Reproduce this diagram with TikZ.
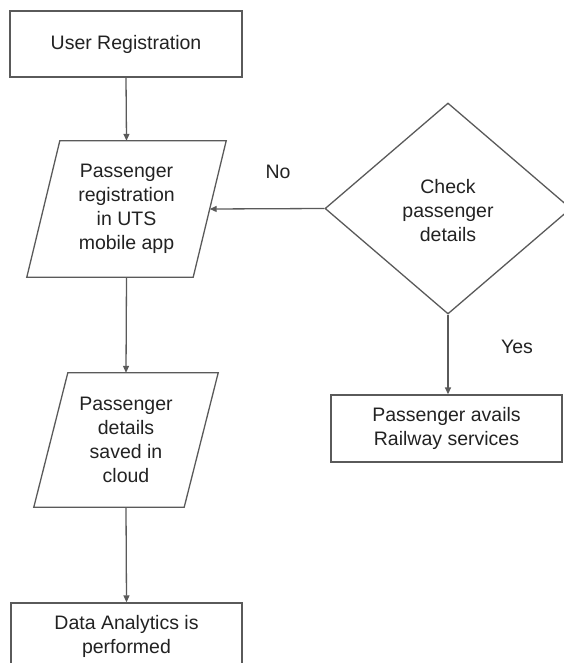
\documentclass[tikz,border=0pt]{standalone}
\usepackage{fontspec}
\setmainfont{Liberation Sans}
\usetikzlibrary{arrows.meta,shapes.geometric}
\definecolor{linec}{HTML}{5A5A5A}
\definecolor{textc}{HTML}{222222}
\begin{document}
\begin{tikzpicture}[x=1pt,y=-1pt,
  every node/.style={font=\fontsize{19.5}{24}\selectfont, text=textc, align=center, inner sep=0pt},
  procbox/.style={draw=linec, line width=1.3pt, rectangle},
  iobox/.style={draw=none, rectangle},
  decbox/.style={draw=linec, line width=1.3pt, diamond, aspect=1.17},
  conn/.style={draw=linec, line width=1.3pt, -{Triangle[length=7pt,width=6pt]}},
  para/.style={draw=linec, line width=1.3pt, line join=miter}
]
\useasboundingbox (0,0) rectangle (564,663);
\begin{scope}
\clip (0,0) rectangle (564,663);
\node[procbox, minimum width=232pt, minimum height=66pt] (reg) at (126,44) {User Registration};
\node[iobox, minimum width=199pt, minimum height=136pt] (p1) at (126.5,209) {Passenger\\registration\\in UTS\\mobile app};
\draw[para] ([xshift=33pt]p1.north west) -- (p1.north east) -- ([xshift=-33pt]p1.south east) -- (p1.south west) -- cycle;
\node[iobox, minimum width=184pt, minimum height=134pt] (p2) at (126,440) {Passenger\\details\\saved in\\cloud};
\draw[para] ([xshift=34pt]p2.north west) -- (p2.north east) -- ([xshift=-34pt]p2.south east) -- (p2.south west) -- cycle;
\node[procbox, minimum width=231pt, minimum height=66pt] (ana) at (126.5,636) {Data Analytics is\\performed};
\node[draw=linec, line width=1.3pt, diamond, minimum width=246pt, minimum height=211pt, inner sep=0pt] (dec) at (448,208.5) {};
\node (dect) at (448,211) {Check\\passenger\\details};
\node[procbox, minimum width=231pt, minimum height=67pt] (avail) at (446.5,428.5) {Passenger avails\\Railway services};
\node (no) at (278,172) {No};
\node (yes) at (517,347) {Yes};
\coordinate (p1in) at ([xshift=-16.5pt]p1.east);
\draw[conn] (reg.south) -- (p1.north);
\draw[conn] (p1.south) -- (p2.north);
\draw[conn] (p2.south) -- (ana.north);
\draw[conn] (dec.west) -- (p1in);
\draw[conn] (dec.south) -- (dec.south |- avail.north);
\end{scope}
\end{tikzpicture}
\end{document}
